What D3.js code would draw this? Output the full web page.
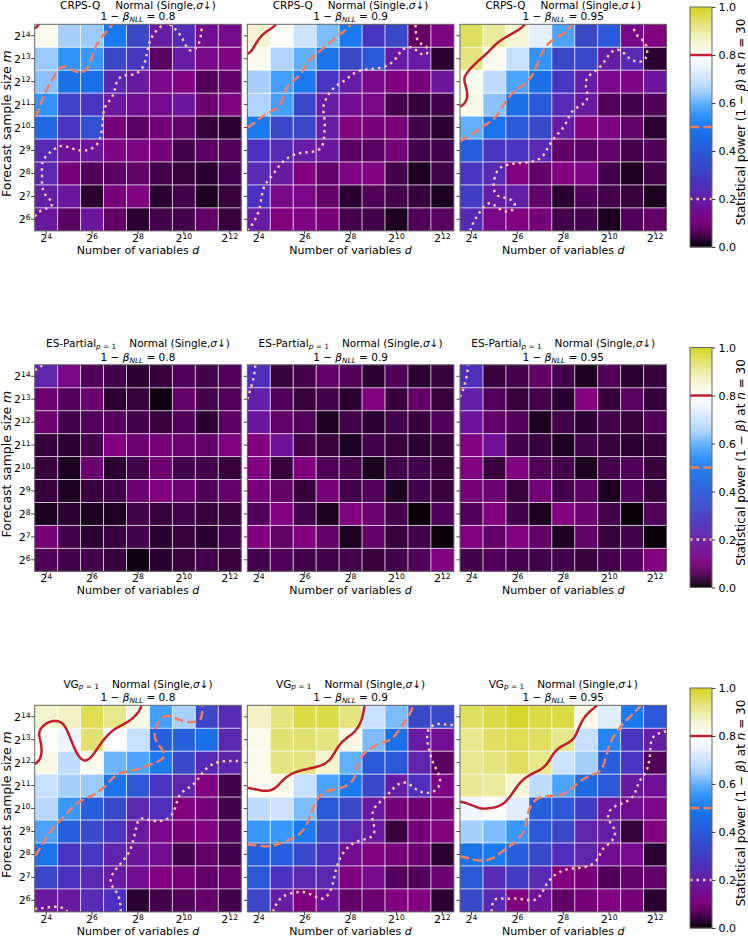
<!DOCTYPE html>
<html>
<head>
<meta charset="utf-8">
<script src="https://cdn.jsdelivr.net/npm/d3@7"></script>
<style>
body { margin: 0; background: #fff; }
text { font-family: "DejaVu Sans", sans-serif; fill: #000; }
</style>
</head>
<body>
<svg id="fig" width="748" height="939"></svg>
<script>
// axis categories (exponents of 2)
var dExp = [4, 5, 6, 7, 8, 9, 10, 11, 12];
var mExp = [14, 13, 12, 11, 10, 9, 8, 7, 6];
var xTickExp = [4, 6, 8, 10, 12];
var cbTicks = [0, 0.2, 0.4, 0.6, 0.8, 1.0];
var levels = [0.2, 0.5, 0.8];
var scoreNames = ["CRPS-Q", "ES-Partial", "VG"];
var scoreSubs = [null, "p = 1", "p = 1"];
var nllPower = ["0.8", "0.9", "0.95"];

// power values, rows m = 2^14 .. 2^6, columns d = 2^4 .. 2^12
var crpsQ08 = [
  [0.82, 0.65, 0.64, 0.50, 0.33, 0.20, 0.24, 0.15, 0.14],
  [0.64, 0.55, 0.56, 0.33, 0.28, 0.07, 0.20, 0.13, 0.12],
  [0.63, 0.47, 0.47, 0.23, 0.19, 0.13, 0.11, 0.06, 0.08],
  [0.55, 0.32, 0.28, 0.19, 0.15, 0.14, 0.18, 0.09, 0.12],
  [0.45, 0.28, 0.36, 0.10, 0.07, 0.10, 0.08, 0.04, 0.03],
  [0.24, 0.17, 0.18, 0.12, 0.12, 0.10, 0.05, 0.07, 0.06],
  [0.23, 0.10, 0.06, 0.07, 0.08, 0.05, 0.04, 0.03, 0.05],
  [0.21, 0.18, 0.03, 0.10, 0.11, 0.03, 0.05, 0.02, 0.04],
  [0.19, 0.07, 0.18, 0.08, 0.03, 0.05, 0.05, 0.08, 0.04]
];
var crpsQ09 = [
  [0.86, 0.81, 0.70, 0.62, 0.50, 0.28, 0.33, 0.08, 0.12],
  [0.82, 0.66, 0.60, 0.48, 0.33, 0.40, 0.20, 0.20, 0.03],
  [0.65, 0.57, 0.50, 0.28, 0.20, 0.13, 0.11, 0.10, 0.18],
  [0.66, 0.57, 0.33, 0.20, 0.15, 0.13, 0.05, 0.04, 0.05],
  [0.50, 0.33, 0.33, 0.20, 0.11, 0.10, 0.10, 0.05, 0.03],
  [0.27, 0.24, 0.20, 0.18, 0.07, 0.07, 0.10, 0.05, 0.05],
  [0.24, 0.19, 0.11, 0.08, 0.12, 0.11, 0.05, 0.02, 0.05],
  [0.27, 0.13, 0.13, 0.08, 0.03, 0.06, 0.05, 0.04, 0.02],
  [0.20, 0.11, 0.12, 0.10, 0.05, 0.05, 0.02, 0.06, 0.07]
];
var crpsQ095 = [
  [0.95, 0.90, 0.85, 0.74, 0.58, 0.33, 0.40, 0.13, 0.11],
  [0.93, 0.82, 0.69, 0.55, 0.33, 0.33, 0.20, 0.24, 0.03],
  [0.82, 0.68, 0.58, 0.47, 0.28, 0.20, 0.13, 0.12, 0.18],
  [0.83, 0.63, 0.47, 0.40, 0.24, 0.19, 0.06, 0.05, 0.06],
  [0.60, 0.48, 0.40, 0.34, 0.20, 0.11, 0.12, 0.08, 0.03],
  [0.42, 0.28, 0.28, 0.24, 0.08, 0.07, 0.08, 0.05, 0.06],
  [0.28, 0.24, 0.11, 0.08, 0.11, 0.12, 0.05, 0.02, 0.05],
  [0.30, 0.20, 0.21, 0.08, 0.03, 0.06, 0.05, 0.04, 0.02],
  [0.24, 0.13, 0.11, 0.10, 0.05, 0.05, 0.02, 0.06, 0.08]
];
var esPartial08 = [
  [0.22, 0.13, 0.06, 0.05, 0.03, 0.04, 0.06, 0.05, 0.06],
  [0.09, 0.06, 0.09, 0.03, 0.04, 0.01, 0.08, 0.05, 0.06],
  [0.09, 0.05, 0.06, 0.065, 0.05, 0.04, 0.06, 0.03, 0.07],
  [0.04, 0.03, 0.05, 0.11, 0.09, 0.10, 0.09, 0.08, 0.11],
  [0.04, 0.02, 0.09, 0.03, 0.05, 0.09, 0.05, 0.05, 0.04],
  [0.04, 0.02, 0.04, 0.05, 0.09, 0.11, 0.09, 0.06, 0.08],
  [0.02, 0.03, 0.02, 0.02, 0.05, 0.04, 0.05, 0.04, 0.04],
  [0.10, 0.05, 0.03, 0.04, 0.05, 0.03, 0.04, 0.03, 0.05],
  [0.06, 0.05, 0.05, 0.04, 0.01, 0.03, 0.04, 0.05, 0.04]
];
var esPartial09 = [
  [0.26, 0.04, 0.05, 0.08, 0.06, 0.03, 0.06, 0.03, 0.04],
  [0.21, 0.06, 0.04, 0.05, 0.03, 0.11, 0.04, 0.08, 0.04],
  [0.18, 0.08, 0.06, 0.02, 0.05, 0.03, 0.05, 0.04, 0.06],
  [0.11, 0.17, 0.05, 0.04, 0.02, 0.05, 0.04, 0.03, 0.04],
  [0.11, 0.04, 0.11, 0.06, 0.05, 0.02, 0.05, 0.05, 0.04],
  [0.10, 0.08, 0.04, 0.10, 0.05, 0.06, 0.02, 0.05, 0.04],
  [0.06, 0.11, 0.05, 0.02, 0.11, 0.09, 0.05, 0.005, 0.06],
  [0.11, 0.08, 0.11, 0.08, 0.02, 0.08, 0.04, 0.05, 0.005],
  [0.05, 0.06, 0.05, 0.05, 0.05, 0.04, 0.05, 0.06, 0.11]
];
var esPartial095 = [
  [0.26, 0.04, 0.05, 0.08, 0.05, 0.02, 0.06, 0.03, 0.04],
  [0.21, 0.06, 0.04, 0.05, 0.03, 0.11, 0.04, 0.07, 0.04],
  [0.17, 0.08, 0.06, 0.02, 0.05, 0.03, 0.05, 0.04, 0.06],
  [0.11, 0.16, 0.05, 0.04, 0.02, 0.05, 0.04, 0.03, 0.04],
  [0.11, 0.04, 0.11, 0.06, 0.05, 0.02, 0.05, 0.06, 0.04],
  [0.10, 0.09, 0.04, 0.10, 0.05, 0.07, 0.02, 0.06, 0.04],
  [0.06, 0.11, 0.05, 0.02, 0.11, 0.09, 0.05, 0.005, 0.06],
  [0.11, 0.08, 0.11, 0.08, 0.02, 0.08, 0.04, 0.05, 0.005],
  [0.05, 0.06, 0.05, 0.05, 0.05, 0.04, 0.05, 0.06, 0.11]
];
var vg08 = [
  [0.86, 0.87, 0.96, 0.92, 0.83, 0.57, 0.65, 0.33, 0.24],
  [0.81, 0.76, 0.94, 0.80, 0.69, 0.42, 0.42, 0.47, 0.23],
  [0.83, 0.68, 0.82, 0.61, 0.58, 0.50, 0.33, 0.24, 0.22],
  [0.69, 0.65, 0.64, 0.48, 0.40, 0.28, 0.22, 0.11, 0.05],
  [0.67, 0.56, 0.42, 0.34, 0.23, 0.26, 0.11, 0.10, 0.05],
  [0.58, 0.42, 0.34, 0.28, 0.19, 0.13, 0.10, 0.11, 0.06],
  [0.48, 0.28, 0.29, 0.22, 0.18, 0.15, 0.05, 0.08, 0.05],
  [0.33, 0.27, 0.24, 0.20, 0.15, 0.11, 0.10, 0.08, 0.08],
  [0.19, 0.19, 0.24, 0.27, 0.03, 0.05, 0.06, 0.08, 0.05]
];
var vg09 = [
  [0.87, 0.93, 0.97, 0.97, 0.93, 0.69, 0.62, 0.33, 0.34],
  [0.82, 0.94, 0.94, 0.93, 0.83, 0.62, 0.47, 0.20, 0.16],
  [0.82, 0.93, 0.93, 0.86, 0.60, 0.40, 0.40, 0.22, 0.07],
  [0.82, 0.83, 0.69, 0.58, 0.50, 0.33, 0.20, 0.26, 0.12],
  [0.68, 0.70, 0.62, 0.40, 0.33, 0.19, 0.10, 0.09, 0.10],
  [0.56, 0.56, 0.50, 0.34, 0.24, 0.19, 0.04, 0.10, 0.11],
  [0.42, 0.42, 0.34, 0.27, 0.15, 0.11, 0.10, 0.09, 0.03],
  [0.40, 0.27, 0.23, 0.23, 0.11, 0.14, 0.06, 0.06, 0.09],
  [0.33, 0.20, 0.11, 0.17, 0.08, 0.09, 0.11, 0.11, 0.03]
];
var vg095 = [
  [0.95, 0.97, 0.99, 0.97, 0.97, 0.83, 0.73, 0.50, 0.40],
  [0.92, 0.95, 0.96, 0.95, 0.92, 0.69, 0.52, 0.28, 0.20],
  [0.92, 0.93, 0.95, 0.92, 0.70, 0.65, 0.42, 0.28, 0.06],
  [0.91, 0.90, 0.85, 0.68, 0.58, 0.45, 0.40, 0.19, 0.16],
  [0.76, 0.80, 0.73, 0.42, 0.40, 0.30, 0.19, 0.15, 0.13],
  [0.65, 0.62, 0.56, 0.40, 0.33, 0.22, 0.20, 0.04, 0.11],
  [0.48, 0.50, 0.42, 0.34, 0.26, 0.22, 0.15, 0.14, 0.03],
  [0.40, 0.24, 0.30, 0.24, 0.11, 0.10, 0.06, 0.08, 0.08],
  [0.34, 0.23, 0.11, 0.17, 0.08, 0.10, 0.11, 0.10, 0.03]
];
var panelRows = [
  [crpsQ08, crpsQ09, crpsQ095],
  [esPartial08, esPartial09, esPartial095],
  [vg08, vg09, vg095]
];

// colormap: black - purple - blue - white - yellow
var cmapStops = [0, 0.03, 0.06, 0.11, 0.15, 0.19, 0.23, 0.27, 0.33, 0.4, 0.47, 0.5, 0.56, 0.6, 0.65, 0.69, 0.76, 0.8, 0.83, 0.86, 0.9, 0.93, 0.95, 1.0];
var cmapColors = ["#000000", "#2a0030", "#500058", "#800080", "#720c92", "#6a18a0", "#5a28b0", "#4a30c0", "#3a48c8", "#2a58d8", "#1a70e8", "#1a7af2", "#3898ff", "#60b0ff", "#a8d0ff", "#c8e0ff", "#f0f6ff", "#ffffff", "#fafae6", "#f4f4d0", "#ececa0", "#e4e480", "#e0e060", "#d4d41e"];
var color = d3.scaleLinear().domain(cmapStops).range(cmapColors).clamp(true);

var panelX = [34.7, 247.3, 460];
var rowY = [24.3, 364.8, 705.3];
var pw = 206.5, ph = 206.5;
var cbX = 690, cbW = 22, cbH = 240, cbOff = -17.3;
var lineStyles = [
  { dash: "2.5,4", color: "#f8c8a6" },
  { dash: "9.25,4", color: "#f47c5f" },
  { dash: null, color: "#c01f2b" }
];
var UP = 161;

var svg = d3.select("#fig");
var defs = svg.append("defs");

var x = d3.scaleBand().domain(dExp).range([0, pw]);
var y = d3.scaleBand().domain(mExp).range([0, ph]);
var cx = d3.scaleLinear().domain([0.5, UP - 0.5]).range([0, pw]);
var cy = d3.scaleLinear().domain([0.5, UP - 0.5]).range([0, ph]);

// smooth the 9x9 grid with Catmull-Rom so the contour lines come out round
function upsample(grid) {
  var n = grid.length, out = new Array(UP * UP);
  function g(r, c) {
    r = Math.max(0, Math.min(n - 1, r));
    c = Math.max(0, Math.min(n - 1, c));
    return grid[r][c];
  }
  function cr(p0, p1, p2, p3, t) {
    return 0.5 * (2 * p1 + (p2 - p0) * t + (2 * p0 - 5 * p1 + 4 * p2 - p3) * t * t + (3 * p1 - p0 - 3 * p2 + p3) * t * t * t);
  }
  function split(k) {
    var t = k * (n - 1) / (UP - 1), i = Math.min(n - 2, Math.floor(t));
    return [i, t - i];
  }
  for (var yi = 0; yi < UP; yi++) {
    var sy = split(yi), r = sy[0], fy = sy[1];
    for (var xi = 0; xi < UP; xi++) {
      var sx = split(xi), c = sx[0], fx = sx[1];
      var rows = [-1, 0, 1, 2].map(function (dr) {
        return cr(g(r + dr, c - 1), g(r + dr, c), g(r + dr, c + 1), g(r + dr, c + 2), fx);
      });
      out[yi * UP + xi] = cr(rows[0], rows[1], rows[2], rows[3], fy);
    }
  }
  return out;
}

// turn the closed d3 contour rings into open lines (drop the border parts)
function contourLines(values, level) {
  var c = d3.contours().size([UP, UP]).thresholds([level])(values)[0];
  var lines = [];
  c.coordinates.forEach(function (poly) {
    poly.forEach(function (ring) {
      var pts = ring.slice(0, ring.length - 1);
      var onB = pts.map(function (p) { return p[0] <= 0 || p[0] >= UP || p[1] <= 0 || p[1] >= UP; });
      var start = onB.indexOf(true);
      if (start < 0) { lines.push(pts.concat([pts[0]])); return; }
      var cur = [];
      for (var k = 1; k <= pts.length; k++) {
        var idx = (start + k) % pts.length;
        if (onB[idx]) { if (cur.length > 1) lines.push(cur); cur = []; }
        else cur.push(pts[idx]);
      }
      if (cur.length > 1) lines.push(cur);
    });
  });
  return lines;
}

var line = d3.line().x(function (p) { return cx(p[0]); }).y(function (p) { return cy(p[1]); });

function sup(sel, base, exp) {
  sel.append("tspan").text(base);
  sel.append("tspan").attr("dy", "-0.42em").attr("font-size", "0.7em").text(exp);
}

panelRows.forEach(function (row, ri) {
  row.forEach(function (grid, ci) {
    var g = svg.append("g").attr("transform", "translate(" + panelX[ci] + "," + rowY[ri] + ")");
    var clipId = "clip" + ri + ci;
    defs.append("clipPath").attr("id", clipId)
      .append("rect").attr("width", pw).attr("height", ph);

    // cells
    grid.forEach(function (vals, r) {
      g.selectAll(null).data(vals).enter().append("rect")
        .attr("x", function (v, c) { return x(dExp[c]); })
        .attr("y", y(mExp[r]))
        .attr("width", x.bandwidth() + 0.3)
        .attr("height", y.bandwidth() + 0.3)
        .attr("fill", function (v) { return color(v); });
    });

    // white grid
    g.selectAll(null).data(dExp.slice(1)).enter().append("line")
      .attr("x1", function (d) { return x(d); }).attr("x2", function (d) { return x(d); })
      .attr("y1", 0).attr("y2", ph)
      .attr("stroke", "rgba(255,255,255,0.75)").attr("stroke-width", 1);
    g.selectAll(null).data(mExp.slice(1)).enter().append("line")
      .attr("y1", function (d) { return y(d); }).attr("y2", function (d) { return y(d); })
      .attr("x1", 0).attr("x2", pw)
      .attr("stroke", "rgba(255,255,255,0.75)").attr("stroke-width", 1);

    // contour lines
    var vals = upsample(grid);
    var cg = g.append("g").attr("clip-path", "url(#" + clipId + ")");
    levels.forEach(function (lv, li) {
      contourLines(vals, lv).forEach(function (pts) {
        cg.append("path")
          .attr("d", line(pts))
          .attr("fill", "none")
          .attr("stroke", lineStyles[li].color)
          .attr("stroke-width", 2.5)
          .attr("stroke-dasharray", lineStyles[li].dash);
      });
    });

    // frame
    g.append("rect").attr("width", pw).attr("height", ph)
      .attr("fill", "none").attr("stroke", "#666").attr("stroke-width", 1);

    // x axis
    var xa = g.append("g").attr("transform", "translate(0," + ph + ")")
      .call(d3.axisBottom(x).tickValues(xTickExp).tickSize(3.5).tickPadding(3.5).tickFormat(""));
    xa.select(".domain").remove();
    xa.selectAll(".tick line").attr("stroke", "#444");
    xa.selectAll(".tick text").attr("font-size", 11).attr("y", 11).attr("dy", null)
      .each(function (d) { sup(d3.select(this), "2", d); });

    // y axis
    var ya = g.append("g")
      .call(d3.axisLeft(y).tickSize(3.5).tickPadding(3.5).tickFormat(""));
    ya.select(".domain").remove();
    ya.selectAll(".tick line").attr("stroke", "#444");
    if (ci === 0) {
      ya.selectAll(".tick text").attr("font-size", 11).attr("x", -4).attr("dy", "0.36em")
        .each(function (d) { sup(d3.select(this), "2", d); });
      g.append("text")
        .attr("transform", "translate(" + (10.5 - panelX[0]) + "," + (ph / 2 - 4) + ") rotate(-90)")
        .attr("text-anchor", "middle").attr("font-size", 12.5)
        .call(function (t) {
          t.append("tspan").text("Forecast sample size ");
          t.append("tspan").attr("font-style", "italic").text("m");
        });
    }

    // x label
    g.append("text").attr("x", pw / 2).attr("y", ph + 23)
      .attr("text-anchor", "middle").attr("font-size", 11)
      .call(function (t) {
        t.append("tspan").text("Number of variables ");
        t.append("tspan").attr("font-style", "italic").text("d");
      });

    // title
    var t1 = g.append("text").attr("x", pw / 2).attr("y", scoreSubs[ri] ? -17.8 : -15.5)
      .attr("text-anchor", "middle").attr("font-size", 10.5);
    t1.append("tspan").text(scoreNames[ri]);
    if (scoreSubs[ri]) {
      var s = t1.append("tspan").attr("dy", "0.25em").attr("font-size", "0.7em");
      s.append("tspan").attr("font-style", "italic").text("p");
      s.append("tspan").text(" = 1");
      t1.append("tspan").attr("dy", "-0.175em").attr("dx", 13).text("Normal (Single,");
    } else {
      t1.append("tspan").attr("dx", 15).text("Normal (Single,");
    }
    t1.append("tspan").attr("font-style", "italic").text("σ");
    t1.append("tspan").text("↓)");

    var t2 = g.append("text").attr("x", pw / 2).attr("y", -4.3)
      .attr("text-anchor", "middle").attr("font-size", 10.5);
    t2.append("tspan").text("1 − ");
    t2.append("tspan").attr("font-style", "italic").text("β");
    t2.append("tspan").attr("dy", "0.3em").attr("font-size", "0.7em").attr("font-style", "italic").text("NLL");
    t2.append("tspan").attr("dy", "-0.21em").text(" = " + nllPower[ci]);
  });

  // colorbar
  var cbTop = rowY[ri] + cbOff;
  var cbScale = d3.scaleLinear().domain([0, 1]).range([cbTop + cbH, cbTop]);
  var cb = svg.append("g");
  var steps = d3.range(0, 1, 1 / 240);
  cb.selectAll(null).data(steps).enter().append("rect")
    .attr("x", cbX).attr("width", cbW)
    .attr("y", function (v) { return cbScale(v + 1 / 240); })
    .attr("height", cbH / 240 + 0.4)
    .attr("fill", function (v) { return color(v + 0.5 / 240); });
  levels.forEach(function (lv, li) {
    cb.append("line")
      .attr("x1", cbX).attr("x2", cbX + cbW)
      .attr("y1", cbScale(lv)).attr("y2", cbScale(lv))
      .attr("stroke", lineStyles[li].color).attr("stroke-width", 2.5)
      .attr("stroke-dasharray", lineStyles[li].dash);
  });
  cb.append("rect").attr("x", cbX).attr("y", cbTop).attr("width", cbW).attr("height", cbH)
    .attr("fill", "none").attr("stroke", "#666").attr("stroke-width", 1);
  var ca = cb.append("g").attr("transform", "translate(" + (cbX + cbW) + ",0)")
    .call(d3.axisRight(cbScale).tickValues(cbTicks).tickSize(3.5).tickPadding(3)
      .tickFormat(d3.format(".1f")));
  ca.select(".domain").remove();
  ca.selectAll(".tick line").attr("stroke", "#444");
  ca.selectAll(".tick text").attr("font-size", 11).attr("font-family", "DejaVu Sans").attr("fill", "#000");
  svg.append("text")
    .attr("transform", "translate(745," + (cbTop + cbH / 2 - 5) + ") rotate(-90)")
    .attr("text-anchor", "middle").attr("font-size", 12)
    .call(function (t) {
      t.append("tspan").text("Statistical power (1 − ");
      t.append("tspan").attr("font-style", "italic").text("β");
      t.append("tspan").text(") at ");
      t.append("tspan").attr("font-style", "italic").text("n");
      t.append("tspan").text(" = 30");
    });
});
</script>
</body>
</html>
